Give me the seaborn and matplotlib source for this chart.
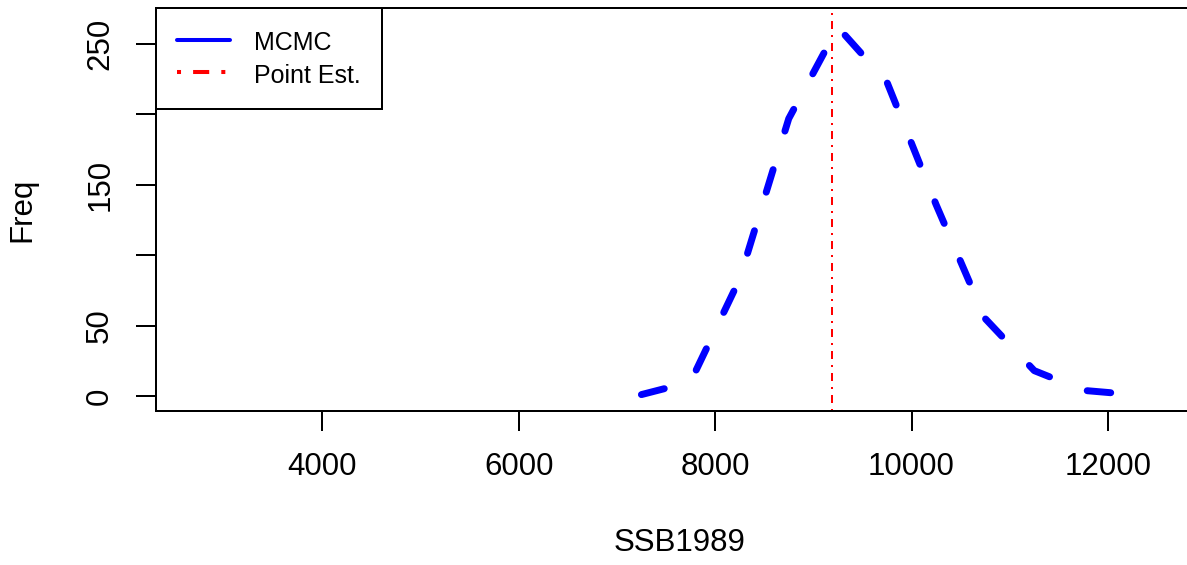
import matplotlib
matplotlib.use("Agg")
import matplotlib.pyplot as plt
import seaborn as sns
import numpy as np
import pandas as pd
from matplotlib.lines import Line2D

# ---- data ----
ssb_mid = [7250, 7750, 8250, 8750, 9250, 9750, 10250, 10750, 11250, 11750, 12250]
freq = [1, 10, 83, 197, 262, 223, 136, 55, 18, 4, 1]
point_est = 9190
x_ticks = [4000, 6000, 8000, 10000, 12000]
y_ticks = [0, 50, 100, 150, 200, 250]
y_ticklabels = ["0", "50", "", "150", "", "250"]
legend_labels = ["MCMC", "Point Est."]

sns.set_theme(style="ticks")
plt.rcParams["font.family"] = ["Liberation Sans", "DejaVu Sans"]
plt.rcParams["text.color"] = "black"

W, H = 1187, 565
fig = plt.figure(figsize=(W / 100, H / 100), dpi=100)
left, right, top, bottom = 156, 1204, 8, 411
ax = fig.add_axes([left / W, (H - bottom) / H, (right - left) / W, (bottom - top) / H])

df = pd.DataFrame({"SSB1989": ssb_mid, "Freq": freq})
sns.lineplot(data=df, x="SSB1989", y="Freq", ax=ax, color="blue", lw=5,
             errorbar=None, sort=True)
ln = ax.lines[-1]
ln.set_linestyle((0, (3.4, 5.8)))
ln.set_dash_capstyle("round")
ln.set_solid_capstyle("round")

ax.axvline(point_est, color="red", lw=1.44, linestyle=(0, (1, 3, 4, 3)))

ax.set_xlim(2308, 12978)
ax.set_ylim(-10.65, 275.6)
ax.set_xticks(x_ticks)
ax.set_xticklabels([str(v) for v in x_ticks])
ax.set_yticks(y_ticks)
ax.set_yticklabels(y_ticklabels, rotation=90, va="center")

for s in ax.spines.values():
    s.set_color("black")
    s.set_linewidth(1.44)
    s.set_visible(True)

ax.tick_params(axis="both", direction="out", length=14.4, width=1.44,
               labelsize=22.5, color="black", labelcolor="black")
ax.tick_params(axis="x", pad=15)
ax.tick_params(axis="y", pad=15)

ax.set_xlabel("SSB1989", fontsize=22.5, color="black")
ax.set_ylabel("Freq", fontsize=22.5, color="black")
ax.xaxis.set_label_coords(0.5, (bottom - 543) / (bottom - top))
ax.xaxis.label.set_va("center")
ax.yaxis.set_label_coords((22 - left) / (right - left), 0.5)
ax.yaxis.label.set_va("center")

handles = [Line2D([], [], color="blue", lw=2.9),
           Line2D([], [], color="red", lw=2.9, linestyle=(0, (1, 3, 4, 3)))]
leg = ax.legend(handles, legend_labels, loc="upper left", bbox_to_anchor=(0, 1),
                borderaxespad=0, frameon=True, fancybox=False, edgecolor="black",
                framealpha=1, fontsize=18, handlelength=2.12, handletextpad=0.96,
                handleheight=1.2, borderpad=0.85, labelspacing=0.25)
leg.get_frame().set_linewidth(1.44)
for t in leg.get_texts():
    t.set_color("black")

fig.savefig("out.png", dpi=100)
